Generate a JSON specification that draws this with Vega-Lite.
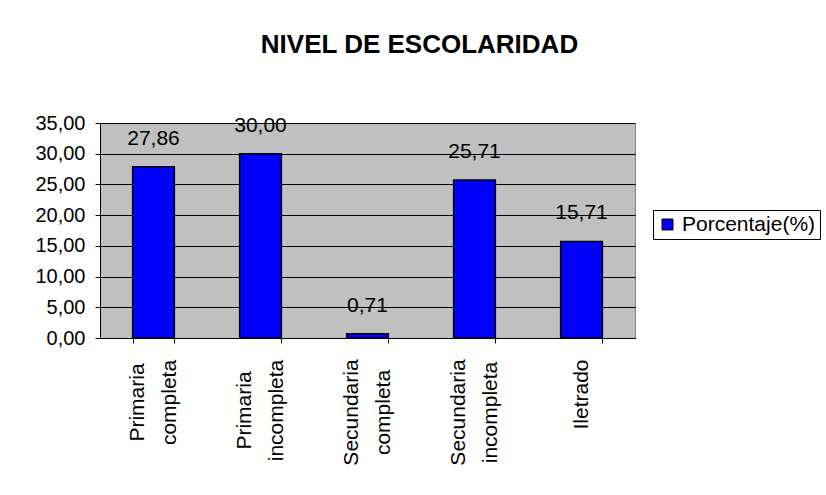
{
  "$schema": "https://vega.github.io/schema/vega-lite/v6.json",
  "autosize": {"type": "none"},
  "width": 535,
  "height": 215,
  "padding": {"left": 100, "top": 123, "right": 191, "bottom": 157},
  "background": "white",
  "title": {
    "text": "NIVEL DE ESCOLARIDAD",
    "font": "Liberation Sans",
    "fontSize": 26,
    "fontWeight": "bold",
    "color": "black",
    "anchor": "middle",
    "dx": 52,
    "offset": 29,
    "baseline": "bottom"
  },
  "data": {
    "values": [
      {"nivel": "Primaria completa", "valor": 27.86, "serie": "Porcentaje(%)"},
      {"nivel": "Primaria incompleta", "valor": 30.00, "serie": "Porcentaje(%)"},
      {"nivel": "Secundaria completa", "valor": 0.71, "serie": "Porcentaje(%)"},
      {"nivel": "Secundaria incompleta", "valor": 25.71, "serie": "Porcentaje(%)"},
      {"nivel": "Iletrado", "valor": 15.71, "serie": "Porcentaje(%)"}
    ]
  },
  "encoding": {
    "x": {
      "field": "nivel",
      "type": "nominal",
      "sort": null,
      "scale": {"paddingInner": 0.61, "paddingOuter": 0.305},
      "axis": {
        "title": null,
        "labelAngle": -90,
        "labelAlign": "center",
        "labelBaseline": "middle",
        "labelExpr": "split(datum.label, ' ')",
        "labelLineHeight": 32,
        "labelOffset": {"condition": {"test": "datum.value === 'Iletrado'", "value": 0}, "value": -16},
        "labelPadding": {
          "condition": [
            {"test": "datum.value === 'Primaria completa'", "value": 59},
            {"test": "datum.value === 'Primaria incompleta'", "value": 67},
            {"test": "datum.value === 'Iletrado'", "value": 51}
          ],
          "value": 69
        },
        "labelFont": "Liberation Sans",
        "labelFontSize": 21,
        "labelColor": "black",
        "domainColor": "black",
        "tickColor": "black",
        "tickSize": 5,
        "tickBand": "extent",
        "grid": false
      }
    },
    "y": {
      "field": "valor",
      "type": "quantitative",
      "scale": {"domain": [0, 35], "nice": false},
      "axis": {
        "title": null,
        "values": [0, 5, 10, 15, 20, 25, 30, 35],
        "format": ".2f",
        "labelFont": "Liberation Sans",
        "labelFontSize": 20,
        "labelColor": "black",
        "labelPadding": 10,
        "tickSize": 5,
        "tickColor": "black",
        "domainColor": "black",
        "grid": true,
        "gridColor": "black",
        "gridWidth": 1
      }
    }
  },
  "layer": [
    {
      "mark": {"type": "bar", "stroke": "black", "strokeWidth": 1.5},
      "encoding": {
        "color": {
          "field": "serie",
          "type": "nominal",
          "scale": {"range": ["#0000FF"]},
          "legend": {
            "title": null,
            "orient": "none",
            "legendX": 553,
            "legendY": 87,
            "symbolType": "square",
            "symbolSize": 120,
            "symbolStrokeColor": "black",
            "symbolStrokeWidth": 1,
            "labelFont": "Liberation Sans",
            "labelFontSize": 21,
            "labelColor": "black",
            "strokeColor": "black",
            "fillColor": "white",
            "padding": 4
          }
        }
      }
    },
    {
      "mark": {"type": "text", "baseline": "bottom", "dy": -18, "font": "Liberation Sans", "fontSize": 21, "color": "black"},
      "encoding": {
        "text": {"field": "valor", "type": "quantitative", "format": ".2f"}
      }
    }
  ],
  "config": {
    "locale": {
      "number": {"decimal": ",", "thousands": ".", "grouping": [3], "currency": ["$", ""]}
    },
    "view": {"fill": "#C0C0C0", "stroke": "#808080", "strokeWidth": 1}
  }
}
